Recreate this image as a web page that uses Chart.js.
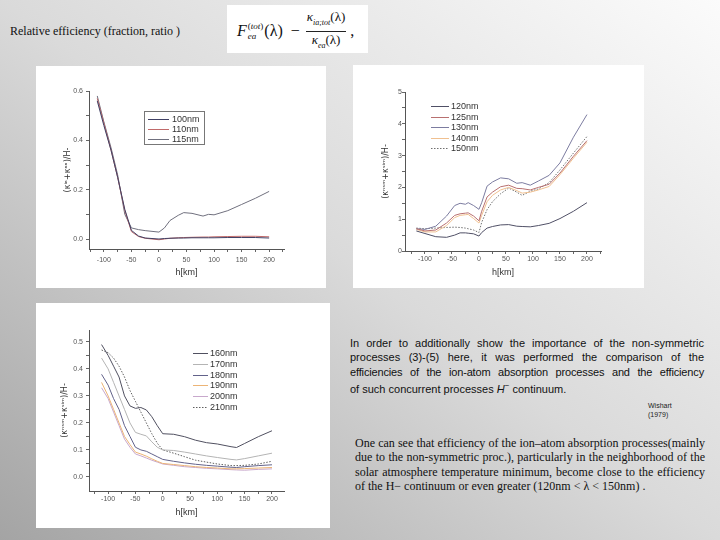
<!DOCTYPE html>
<html><head><meta charset="utf-8">
<script src="https://cdn.jsdelivr.net/npm/chart.js@4.4.0/dist/chart.umd.min.js"></script>
<style>
html,body{margin:0;padding:0;}
body{width:720px;height:540px;overflow:hidden;position:relative;background:linear-gradient(to bottom left,#fbfbfb 0%,#dadada 50%,#a4a4a4 100%);}
.box{position:absolute;background:#fff;}
canvas{display:block;}
#title{position:absolute;left:10px;top:24px;font:12px "Liberation Serif","Times New Roman",serif;color:#111;white-space:nowrap;line-height:14px;}
#fbox{position:absolute;left:227px;top:5px;width:141px;height:48px;background:#fff;}
#formula{position:absolute;left:237px;top:9px;font-family:"Liberation Serif",serif;font-size:16px;color:#111;white-space:nowrap;display:flex;align-items:center;}
.ss{display:inline-flex;flex-direction:column;font-size:9px;line-height:10px;margin:0 1px;}
.frac{display:inline-flex;flex-direction:column;align-items:center;font-size:13px;line-height:16px;margin-left:6px;}
.num{border-bottom:1px solid #222;padding:0 1px;}
.frac sub{font-size:8px;}
.p1{position:absolute;left:350px;top:336px;width:354px;font:11px "Liberation Sans",Arial,sans-serif;color:#111;line-height:14.3px;}
.p2{position:absolute;left:355px;top:436px;width:350px;font:12px "Liberation Serif","Times New Roman",serif;color:#111;line-height:14.3px;}
.j{text-align:justify;text-align-last:justify;white-space:nowrap;}
.l{text-align:left;white-space:nowrap;}
#wish{position:absolute;left:648px;top:401px;font:7px "Liberation Sans",Arial,sans-serif;line-height:9px;color:#222;}
</style></head>
<body>
<div id="title">Relative efficiency (fraction, ratio )</div>
<div id="fbox"></div>
<div id="formula"><i>F</i><span class="ss"><span>(<i>tot</i>)</span><span><i>ea</i></span></span>(λ) &nbsp;−<span class="frac"><span class="num"><i>κ</i><sub><i>ia;tot</i></sub>(λ)</span><span><i>κ</i><sub><i>ea</i></sub>(λ)</span></span>&nbsp;,</div>

<div class="box" style="left:36px;top:66px;width:290px;height:222px;"><canvas id="c1" width="290" height="222"></canvas></div>
<div class="box" style="left:353px;top:65px;width:291px;height:223px;"><canvas id="c2" width="291" height="223"></canvas></div>
<div class="box" style="left:36px;top:303px;width:294px;height:225px;"><canvas id="c3" width="294" height="225"></canvas></div>

<div class="p1">
<div class="j">In order to additionally show the importance of the non-symmetric</div>
<div class="j">processes (3)-(5) here, it was performed the comparison of the</div>
<div class="j" style="letter-spacing:-0.15px">efficiencies of the ion-atom absorption processes and the efficiency</div>
<div class="l">of such concurrent processes <i>H</i><sup style="font-size:8px">−</sup> continuum.</div>
</div>
<div id="wish">Wishart<br>(1979)</div>
<div class="p2">
<div class="j">One can see that efficiency of the ion–atom absorption processes(mainly</div>
<div class="j">due to the non-symmetric proc.), particularly in the neighborhood of the</div>
<div class="j">solar atmosphere temperature minimum, become close to the efficiency</div>
<div class="l">of the H− continuum or even greater (120nm &lt; λ &lt; 150nm) .</div>
</div>

<script>
// ---------- Chart 1 data ----------
const h1 = [-112,-100,-87,-75,-62,-50,-37,-25,0,10,20,35,45,60,80,90,100,125,150,175,200];
const nm100 = [0.56,0.46,0.36,0.25,0.12,0.035,0.012,0.004,0.0,0.002,0.003,0.004,0.004,0.005,0.005,0.005,0.005,0.006,0.006,0.006,0.004];
const nm110 = [0.57,0.47,0.36,0.25,0.115,0.03,0.01,0.003,-0.003,0.0,0.003,0.005,0.006,0.007,0.008,0.008,0.009,0.01,0.011,0.011,0.009];
const nm115 = [0.58,0.475,0.37,0.26,0.10,0.045,0.038,0.034,0.028,0.045,0.075,0.096,0.107,0.104,0.093,0.100,0.098,0.115,0.140,0.165,0.193];
const labels1 = ['100nm','110nm','115nm'];

// ---------- Chart 2 data ----------
const h2 = [-116,-100,-80,-60,-45,-35,-25,-20,-10,0,5,15,25,40,55,70,80,95,110,130,150,175,200];
const nm120 = [0.63,0.55,0.45,0.43,0.50,0.57,0.57,0.56,0.54,0.47,0.58,0.72,0.77,0.82,0.83,0.78,0.77,0.76,0.80,0.87,1.02,1.25,1.52];
const nm125 = [0.70,0.63,0.66,0.88,1.12,1.17,1.19,1.20,1.10,0.95,1.25,1.70,1.85,2.02,2.07,1.97,1.96,1.92,2.00,2.10,2.45,2.98,3.47];
const nm130 = [0.70,0.68,0.78,1.10,1.43,1.50,1.47,1.52,1.43,1.31,1.52,2.04,2.17,2.30,2.27,2.13,2.15,2.07,2.20,2.38,2.77,3.58,4.29];
const nm140 = [0.68,0.60,0.60,0.80,1.05,1.12,1.14,1.15,1.02,0.88,1.12,1.55,1.75,1.92,2.00,1.90,1.82,1.85,1.92,2.03,2.40,2.92,3.42];
const nm150 = [0.72,0.70,0.72,0.74,0.75,0.74,0.72,0.70,0.66,0.58,0.90,1.30,1.55,1.80,1.98,1.85,1.75,1.88,1.95,2.15,2.55,3.08,3.60];
const labels2 = ['120nm','125nm','130nm','140nm','150nm'];

// ---------- Chart 3 data ----------
const h3 = [-112,-100,-90,-80,-70,-60,-50,-40,-30,-20,-10,0,20,40,60,80,100,125,135,150,175,200];
const nm160 = [0.49,0.45,0.41,0.37,0.30,0.263,0.254,0.257,0.248,0.223,0.19,0.16,0.158,0.149,0.136,0.127,0.122,0.112,0.109,0.124,0.149,0.171];
const nm170 = [0.44,0.40,0.35,0.30,0.25,0.20,0.165,0.158,0.152,0.13,0.11,0.10,0.098,0.092,0.085,0.078,0.072,0.065,0.063,0.068,0.078,0.088];
const nm180 = [0.38,0.34,0.29,0.25,0.19,0.15,0.11,0.10,0.095,0.085,0.075,0.065,0.058,0.052,0.047,0.043,0.04,0.036,0.035,0.038,0.042,0.045];
const nm190 = [0.35,0.30,0.25,0.20,0.15,0.12,0.092,0.085,0.077,0.067,0.058,0.050,0.046,0.042,0.038,0.035,0.033,0.030,0.030,0.031,0.033,0.035];
const nm200 = [0.33,0.29,0.24,0.19,0.14,0.11,0.085,0.078,0.07,0.062,0.055,0.048,0.043,0.038,0.035,0.032,0.030,0.027,0.026,0.025,0.028,0.030];
const nm210 = [0.47,0.46,0.44,0.41,0.37,0.32,0.28,0.24,0.20,0.16,0.125,0.10,0.088,0.075,0.062,0.055,0.048,0.042,0.042,0.043,0.048,0.058];
const labels3 = ['160nm','170nm','180nm','190nm','200nm','210nm'];

// tick lists
const xTicks = [-125,-100,-75,-50,-25,0,25,50,75,100,125,150,175,200,225];
const xMajor = [-100,-50,0,50,100,150,200];

const pts = (xs, ys) => xs.map((x,i)=>({x:x,y:ys[i]}));
const ds = (label, xs, ys, color, dash) => ({label, data:pts(xs,ys), borderColor:color, borderWidth:1, borderDash:dash||[], pointRadius:0, fill:false, tension:0});

const boxLegend = {
  id:'boxLegend',
  afterDatasetsDraw(chart, args, o){
    const ctx = chart.ctx; ctx.save();
    if (o.border){ ctx.strokeStyle='#777'; ctx.lineWidth=1; ctx.strokeRect(o.border[0]+0.5,o.border[1]+0.5,o.border[2],o.border[3]); }
    ctx.font = o.font; ctx.textBaseline='middle';
    chart.data.datasets.forEach((d,i)=>{
      const y = Math.round(o.y + i*o.dy) + 0.5;
      ctx.beginPath(); ctx.setLineDash(d.borderDash||[]); ctx.strokeStyle=d.borderColor; ctx.lineWidth=1;
      ctx.moveTo(o.x, y); ctx.lineTo(o.x+o.w, y); ctx.stroke();
      ctx.setLineDash([]); ctx.fillStyle='#333'; ctx.fillText(d.label, o.x+o.w+o.gap, y);
    });
    ctx.restore();
  }
};

function makeChart(id, datasets, g){
  const tickFont = {family:'Liberation Sans', size:7};
  new Chart(document.getElementById(id), {
    type:'line',
    data:{datasets},
    options:{
      responsive:false, animation:false, maintainAspectRatio:false,
      layout:{padding:{left:0, top:g.top, right:g.right, bottom:0}},
      plugins:{legend:{display:false}, tooltip:{enabled:false}, boxLegend:g.legend},
      scales:{
        x:{type:'linear', min:g.xmin, max:g.xmax,
           afterFit:s=>{s.height=g.H-g.axisY;},
           afterBuildTicks:s=>{s.ticks=xTicks.filter(v=>v>=g.xmin&&v<=g.xmax).map(v=>({value:v}));},
           ticks:{autoSkip:false, maxRotation:0, font:tickFont, color:'#555', padding:g.xpad,
                  callback:v=>xMajor.includes(v)?String(v):''},
           grid:{drawOnChartArea:false, drawTicks:true, tickLength:3, color:'#666'},
           border:{display:true, color:'#555'},
           title:{display:true, text:'h[km]', font:{family:'Liberation Sans', size:9}, color:'#333', padding:{top:0,bottom:9.6}}
        },
        y:{type:'linear', min:g.ymin, max:g.ymax,
           afterFit:s=>{s.width=g.axisX;},
           afterBuildTicks:s=>{s.ticks=g.yTicks.map(v=>({value:v}));},
           ticks:{autoSkip:false, font:tickFont, color:'#555', padding:g.ypad,
                  callback:v=>{const m=g.yMajor.find(t=>Math.abs(t-v)<1e-9); return m===undefined?'':m.toFixed(g.yDec);}},
           grid:{drawOnChartArea:false, drawTicks:true, tickLength:3, color:'#666'},
           border:{display:true, color:'#555'},
           title:{display:true, text:g.ytitle, font:{family:'DejaVu Sans', size:8}, color:'#333', padding:{top:g.ytitlePad,bottom:0}}
        }
      }
    },
    plugins:[boxLegend]
  });
}

const y1Ticks = [0,0.1,0.2,0.3,0.4,0.5,0.6];
makeChart('c1', [
  ds(labels1[0], h1, nm100, '#404064'),
  ds(labels1[1], h1, nm110, '#c06a6a'),
  ds(labels1[2], h1, nm115, '#70707e')
], {H:222, top:25, right:42, axisX:53, axisY:183, xmin:-127, xmax:227, ymin:-0.0405, ymax:0.6,
    yTicks:y1Ticks, yMajor:[0,0.2,0.4,0.6], yDec:1, xpad:3.8, ypad:3, ytitlePad:27,
    ytitle:'(κⁱᵃ+κᵃᵃ)/H-',
    legend:{x:112, y:53, dy:10, w:21, gap:3, font:'9px "Liberation Sans"', border:[108,45,60,33]}});

const y2Ticks = [0,0.5,1,1.5,2,2.5,3,3.5,4,4.5,5];
makeChart('c2', [
  ds(labels2[0], h2, nm120, '#505066'),
  ds(labels2[1], h2, nm125, '#b87070'),
  ds(labels2[2], h2, nm130, '#7c7ca0'),
  ds(labels2[3], h2, nm140, '#f0c090'),
  ds(labels2[4], h2, nm150, '#707070', [1.5,1.5])
], {H:223, top:27, right:43, axisX:52, axisY:186, xmin:-137, xmax:226, ymin:0, ymax:5,
    yTicks:y2Ticks, yMajor:[0,1,2,3,4,5], yDec:0, xpad:1, ypad:0, ytitlePad:28,
    ytitle:'(κⁿˢᵐ+κˢⁱᵐ)/H-',
    legend:{x:78, y:41, dy:10.5, w:18, gap:2, font:'9px "Liberation Sans"'}});

const y3Ticks = [0,0.05,0.1,0.15,0.2,0.25,0.3,0.35,0.4,0.45,0.5];
makeChart('c3', [
  ds(labels3[0], h3, nm160, '#505060'),
  ds(labels3[1], h3, nm170, '#b4b4b4'),
  ds(labels3[2], h3, nm180, '#62628a'),
  ds(labels3[3], h3, nm190, '#ecb476'),
  ds(labels3[4], h3, nm200, '#c8a8cc'),
  ds(labels3[5], h3, nm210, '#606060', [1.5,1.5])
], {H:225, top:27, right:46, axisX:53, axisY:188, xmin:-135, xmax:222, ymin:-0.052, ymax:0.544,
    yTicks:y3Ticks, yMajor:[0,0.1,0.2,0.3,0.4,0.5], yDec:1, xpad:1, ypad:3, ytitlePad:24,
    ytitle:'(κⁿˢᵐ+κˢⁱᵐ)/H-',
    legend:{x:157, y:50, dy:10.8, w:15, gap:2, font:'9px "Liberation Sans"'}});
</script>
</body></html>
